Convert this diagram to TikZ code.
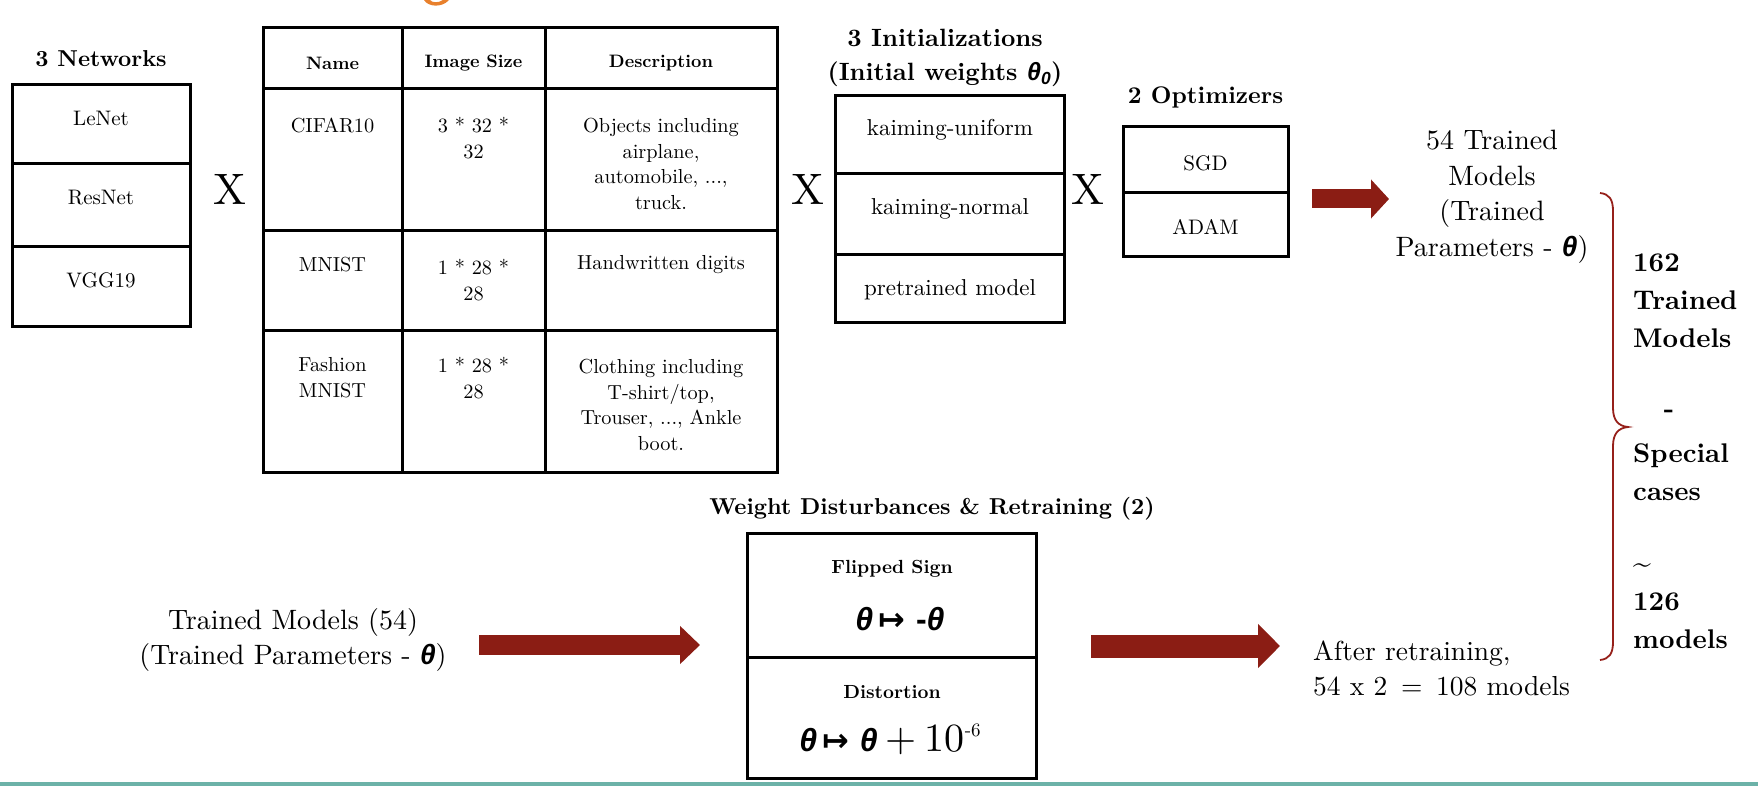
\documentclass[tikz,border=0pt]{standalone}
\usepackage{fontspec}
\setmainfont{lmroman10-regular.otf}[BoldFont=lmroman10-bold.otf, ItalicFont=lmroman10-italic.otf, BoldItalicFont=lmroman10-bolditalic.otf]
\usetikzlibrary{arrows.meta}
\newfontfamily\thfont{Liberation Sans}
\newfontfamily\symfont{DejaVu Sans}
\definecolor{arrred}{RGB}{139,29,20}
\definecolor{bracered}{RGB}{150,32,26}
\definecolor{tealbar}{RGB}{108,178,168}
\definecolor{orng}{RGB}{232,128,44}
\newcommand{\thb}{{\thfont\bfseries\itshape θ}}
\newcommand{\mapsym}{{\symfont\bfseries ↦}}
\tikzset{
  frame/.style={draw=black, line width=3pt},
  lbl/.style={inner sep=0pt, align=center},
  bigx/.style={lbl, font=\fontsize{44}{44}\selectfont},
  tnet/.style={lbl, font=\fontsize{23}{28}\selectfont\bfseries},
  item/.style={lbl, font=\fontsize{21}{26}\selectfont},
  thead/.style={lbl, font=\fontsize{18}{22}\selectfont\bfseries},
  tcell/.style={lbl, font=\fontsize{20.3}{25.7}\selectfont},
  tinit/.style={lbl, font=\fontsize{25}{34}\selectfont\bfseries},
  iitem/.style={lbl, font=\fontsize{23}{28}\selectfont},
  topt/.style={lbl, font=\fontsize{24}{28}\selectfont\bfseries},
  big/.style={lbl, font=\fontsize{28}{35.5}\selectfont},
  side/.style={lbl, align=left, anchor=west, font=\fontsize{27}{37.8}\selectfont\bfseries},
  tdist/.style={lbl, font=\fontsize{23}{28}\selectfont\bfseries},
  dsub/.style={lbl, font=\fontsize{19}{24}\selectfont\bfseries},
  formula/.style={lbl, font=\fontsize{32}{36}\selectfont},
  blockarrow/.style n args={3}{draw=arrred, line width=#1,
     -{Triangle[length=#2, width=#3, fill=arrred]}},
  bracepath/.style={draw=bracered, line width=1.8pt}
}
\begin{document}
\begin{tikzpicture}[x=1pt,y=-1pt]
\useasboundingbox (0,0) rectangle (1758,786);
\fill[white] (0,0) rectangle (1758,786);

% cut-off orange glyph at the top
\fill[orng] (424,0) .. controls (428,7) and (442,8) .. (449,0) -- (443,0)
   .. controls (439,3) and (432,3) .. (430,0) -- cycle;

% ---------- 3 Networks ----------
\node[tnet] (nettitle) at (101,59) {3 Networks};
\draw[frame] (12,85) rectangle (190,326);
\draw[frame] (12,164) -- (190,164);
\draw[frame] (12,247) -- (190,247);
\node[item] (lenet) at (101,118) {LeNet};
\node[item] (resnet) at (101,198) {ResNet};
\node[item] (vgg) at (101,280) {VGG19};

\node[bigx] (x1) at (230,189) {X};

% ---------- datasets table ----------
\draw[frame] (263,28) rectangle (777,472);
\draw[frame] (263,89) -- (777,89);
\draw[frame] (263,231) -- (777,231);
\draw[frame] (263,330) -- (777,330);
\draw[frame] (402,28) -- (402,472);
\draw[frame] (545,28) -- (545,472);
\node[thead] (hname) at (332.5,63) {Name};
\node[thead] (hsize) at (473.5,63) {Image Size};
\node[thead] (hdesc) at (661,63) {Description};
\node[tcell] (cifar) at (332.5,125) {CIFAR10};
\node[tcell] (cifars) at (473.5,138) {3 * 32 *\\32};
\node[tcell] (cifard) at (661,164) {Objects including\\airplane,\\automobile, ...,\\truck.};
\node[tcell] (mnist) at (332.5,265) {MNIST};
\node[tcell] (mnists) at (473.5,280) {1 * 28 *\\28};
\node[tcell] (mnistd) at (661,265) {Handwritten digits};
\node[tcell] (fash) at (332.5,378) {Fashion\\MNIST};
\node[tcell] (fashs) at (473.5,378) {1 * 28 *\\28};
\node[tcell] (fashd) at (661,405) {Clothing including\\T-shirt/top,\\Trouser, ..., Ankle\\boot.};

\node[bigx] (x2) at (808,189) {X};

% ---------- initializations ----------
\node[tinit] (inittitle) at (945,58) {3 Initializations\\(Initial weights \thb\textsubscript{\thfont\bfseries\itshape 0})};
\draw[frame] (835,96) rectangle (1064,322);
\draw[frame] (835,174) -- (1064,174);
\draw[frame] (835,255) -- (1064,255);
\node[iitem] (kunif) at (950,130) {kaiming-uniform};
\node[iitem] (knorm) at (950,209) {kaiming-normal};
\node[iitem] (pre) at (950,290) {pretrained model};

\node[bigx] (x3) at (1088,189) {X};

% ---------- optimizers ----------
\node[topt] (opttitle) at (1205.5,97) {2 Optimizers};
\draw[frame] (1123,127) rectangle (1288,257);
\draw[frame] (1123,193) -- (1288,193);
\node[item] (sgd) at (1205.5,163) {SGD};
\node[item] (adam) at (1205.5,227) {ADAM};

% arrow to 54 trained models
\coordinate (a1s) at (1312,199);
\coordinate (a1e) at (1389,199);
\draw[blockarrow={19pt}{18pt}{38pt}] (a1s) -- (a1e);

\node[big] (trained54) at (1492,197) {54 Trained\\Models\\(Trained\\Parameters - \thb)};

% ---------- brace and summary ----------
\draw[bracepath] (1600,193) .. controls (1609,194) and (1613,199) .. (1613,211)
  -- (1613,408) .. controls (1613,420) and (1618,426) .. (1628,427)
  .. controls (1618,428) and (1613,434) .. (1613,446)
  -- (1613,642) .. controls (1613,654) and (1609,659) .. (1600,660);

\node[side] (sum1) at (1633,301) {162\\Trained\\Models};
\node[lbl, font=\fontsize{27}{37.8}\selectfont\bfseries] (dash) at (1669,414) {-};
\node[side] (sum2) at (1633,472) {Special\\cases};
\node[side] (sum3) at (1633,606) {{\fontsize{32}{37.8}\selectfont\textasciitilde}\\126\\models};

% ---------- bottom row ----------
\node[big] (trainedin) at (293,640) {Trained Models (54)\\(Trained Parameters - \thb)};

\coordinate (a2s) at (479,645);
\coordinate (a2e) at (700,645);
\draw[blockarrow={20pt}{20pt}{37pt}] (a2s) -- (a2e);

\node[tdist] (disttitle) at (932,509) {Weight Disturbances \& Retraining (2)};
\draw[frame] (747,533) rectangle (1036,778);
\draw[frame] (747,657) -- (1036,657);
\node[dsub] (flip) at (892,569) {Flipped Sign};
\node[formula] (flipf) at (900,619) {\thb\,\mapsym\ {\thfont\bfseries -}\thb};
\node[dsub] (distort) at (892,692) {Distortion};
\node[formula] (distf) at (890,739) {\thb\,\mapsym\ \thb{\fontsize{40}{40}\selectfont\hspace{8pt}+\hspace{8pt}10}{\fontsize{19}{19}\selectfont\raisebox{15pt}{-6}}};

\coordinate (a3s) at (1091,646);
\coordinate (a3e) at (1280,646);
\draw[blockarrow={23pt}{22pt}{43pt}] (a3s) -- (a3e);

\node[lbl, align=left, anchor=west, font=\fontsize{27.5}{35}\selectfont] (after) at (1313,668) {After retraining,\\54 x 2 \,=\, 108 models};

% teal rule at the bottom
\fill[tealbar] (0,782) rectangle (1758,786);
\end{tikzpicture}
\end{document}
